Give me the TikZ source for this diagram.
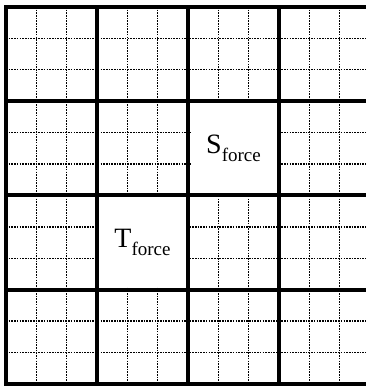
\documentclass[tikz,border=0pt]{standalone}
\usepackage{fontspec}
\setmainfont{Liberation Serif}
\newcommand{\forcelabel}[1]{{\fontsize{28}{30}\selectfont #1}\raisebox{-7.5pt}{\fontsize{19}{21}\selectfont force}}

\begin{document}
\begin{tikzpicture}[
    x=1pt, y=-1pt,
    fine/.style={line width=1.4pt, dash pattern=on 1.6pt off 1.1pt},
    bold/.style={line width=4pt, line cap=rect},
    blank/.style={
      fill=white,
      inner sep=0pt,
      minimum width=86pt,
      minimum height=89pt
    }
  ]
    \useasboundingbox (0,0) rectangle (366,386);
    \clip (0,0) rectangle (366,386);

    % dotted sub-grid, three per cell
    \foreach \k in {1,2,4,5,7,8,10,11} {
      \draw[fine] ({6+\k*91/3},6.8) -- ({6+\k*91/3},384);
      \draw[fine] (6,{6.8+\k*94.3/3}) -- (370,{6.8+\k*94.3/3});
    }

    \node[blank] (sforce) at (233.5,148.25) {\forcelabel{S}};
    \node[blank] (tforce) at (142.5,242.55) {\forcelabel{T}};

    % thick cell borders
    \foreach \k in {0,...,4} {
      \draw[bold] ({6+\k*91},6.8) -- ({6+\k*91},384);
      \draw[bold] (6,{6.8+\k*94.3}) -- (370,{6.8+\k*94.3});
    }
  \end{tikzpicture}
\end{document}
